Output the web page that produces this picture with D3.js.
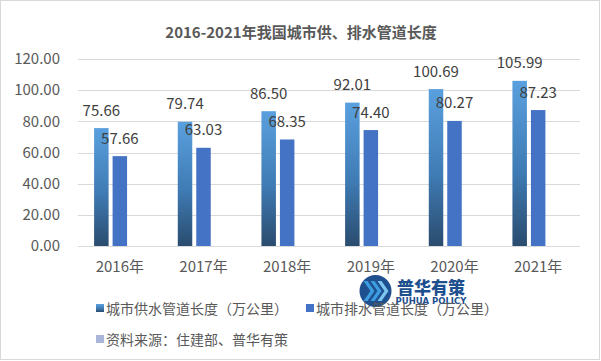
<!DOCTYPE html>
<html><head><meta charset="utf-8">
<script src="https://cdn.jsdelivr.net/npm/d3@7"></script>
<style>body{margin:0;background:#fff}svg{display:block}</style>
</head><body>
<svg id="c" width="601" height="361"></svg>
<script>
const title = "2016-2021年我国城市供、排水管道长度";
const categories = ["2016年","2017年","2018年","2019年","2020年","2021年"];
const supply = [75.66, 79.74, 86.50, 92.01, 100.69, 105.99];
const drain = [57.66, 63.03, 68.35, 74.40, 80.27, 87.23];
const source = [null, null, null, null, null, null];
const seriesNames = ["城市供水管道长度（万公里）","城市排水管道长度（万公里）","资料来源：住建部、普华有策"];
const yTicks = [0,20,40,60,80,100,120];

const font = "'Noto Sans CJK SC','Noto Sans',sans-serif";
const svg = d3.select("#c");
const defs = svg.append("defs");
const g = defs.append("linearGradient").attr("id","grad1").attr("x1",0).attr("y1",0).attr("x2",0).attr("y2",1);
g.append("stop").attr("offset","0%").attr("stop-color","#5aa0de");
g.append("stop").attr("offset","55%").attr("stop-color","#3f7bb4");
g.append("stop").attr("offset","100%").attr("stop-color","#2a4c6e");

svg.append("rect").attr("x",0.5).attr("y",0.5).attr("width",599).attr("height",359)
  .attr("fill","#fff").attr("stroke","#d9d9d9");

svg.append("text").attr("x",301).attr("y",31).attr("text-anchor","middle").attr("dominant-baseline","central")
  .attr("font-family",font).attr("font-size",15).attr("font-weight","bold").attr("fill","#595959").text(title);

const y = d3.scaleLinear().domain([0,120]).range([246,59]);
const x0 = d3.scaleBand().domain(categories).range([78,580]).paddingInner(0.385).paddingOuter(0.1925);
const x1 = d3.scaleBand().domain([0,1,2]).range([0,x0.bandwidth()]).paddingInner(0.216).paddingOuter(0);

const grid = svg.append("g");
grid.selectAll("line").data(yTicks).join("line")
  .attr("x1",78).attr("x2",580).attr("y1",d=>Math.round(y(d))+0.5).attr("y2",d=>Math.round(y(d))+0.5)
  .attr("stroke","#d9d9d9").attr("stroke-width",1);

const yAxis = d3.axisLeft(y).tickValues(yTicks).tickFormat(d=>d.toFixed(2)).tickSize(0).tickPadding(18);
const ya = svg.append("g").attr("transform","translate(78,0)").call(yAxis);
ya.select(".domain").remove();
ya.selectAll("text").attr("font-family",font).attr("font-size",15).attr("fill","#595959");

const xAxis = d3.axisBottom(x0).tickSize(0).tickPadding(15);
const xa = svg.append("g").attr("transform","translate(0,246)").call(xAxis);
xa.select(".domain").remove();
xa.selectAll("text").attr("font-family",font).attr("font-size",15).attr("fill","#595959");

const series = [supply, drain, source];
const fills = ["url(#grad1)","#4472c4","#a9b5da"];
series.forEach((vals,si)=>{
  const data = categories.map((c,i)=>({c, v: vals[i]})).filter(d=>d.v!=null);
  svg.append("g").selectAll("rect").data(data).join("rect")
    .attr("x",d=>x0(d.c)+x1(si)).attr("width",x1.bandwidth())
    .attr("y",d=>y(d.v)).attr("height",d=>y(0)-y(d.v)).attr("fill",fills[si]);
  svg.append("g").selectAll("text").data(data).join("text")
    .attr("x",d=>x0(d.c)+x1(si)+x1.bandwidth()/2).attr("y",d=>y(d.v)-19)
    .attr("text-anchor","middle").attr("dominant-baseline","central")
    .attr("font-family",font).attr("font-size",15).attr("fill","#404040")
    .text(d=>d.v.toFixed(2));
});

// logo watermark
const lg = svg.append("g").attr("transform","translate(375.5,291)");
lg.append("circle").attr("r",16).attr("fill","#1e4f8f");
[-7,0,7].forEach((dx,i)=>{
  lg.append("path").attr("d",`M${dx-5},-10 L${dx+2},0 L${dx-5},10 L${dx-1},10 L${dx+6},0 L${dx-1},-10 Z`)
    .attr("fill",i===2?"#7cc6f0":"#3c9ee0");
});
svg.append("text").attr("x",431).attr("y",286).attr("text-anchor","middle").attr("dominant-baseline","central")
  .attr("font-family",font).attr("font-size",17).attr("font-weight","900").attr("fill","#1e4f8f").text("普华有策");
svg.append("text").attr("x",431).attr("y",301).attr("text-anchor","middle").attr("dominant-baseline","central")
  .attr("font-family","'DejaVu Sans',sans-serif").attr("font-size",8.5).attr("font-weight","bold").attr("fill","#1e4f8f").text("PUHUA POLICY");

// legend
const legendPos = [[96,308],[306,308],[96,339]];
seriesNames.forEach((n,i)=>{
  const [lx,ly] = legendPos[i];
  svg.append("rect").attr("x",lx).attr("y",ly-4).attr("width",8).attr("height",8).attr("fill",fills[i]);
  svg.append("text").attr("x",lx+10).attr("y",ly).attr("dominant-baseline","central")
    .attr("font-family",font).attr("font-size",14).attr("fill","#595959").text(n);
});
</script>
</body></html>
